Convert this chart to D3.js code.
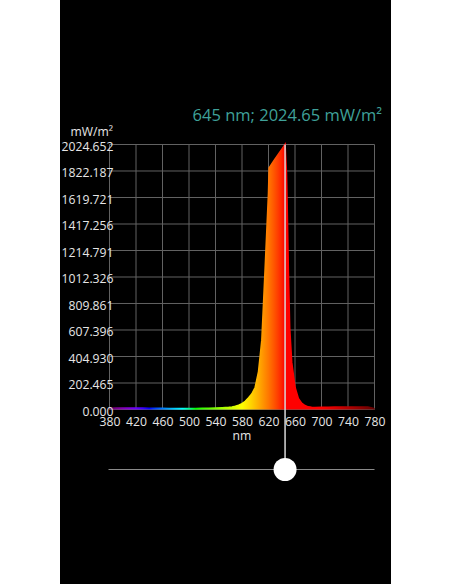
<!DOCTYPE html>
<html><head><meta charset="utf-8">
<script src="https://cdn.jsdelivr.net/npm/d3@7"></script>
<style>
html,body{margin:0;padding:0;background:#fff;}
svg{display:block;}
text{font-family:"Open Sans","DejaVu Sans",sans-serif;}
</style></head>
<body>
<script>
// ---- data ----
const wavelengths = [380,390,400,410,420,430,440,450,460,470,480,490,500,510,520,530,540,550,560,565,570,575,580,585,590,595,600,605,610,615,620,621,625,630,635,640,645,647,648,650,652,655,660,665,670,675,680,685,690,700,710,720,730,740,750,760,770,775,780];
const irradiance = [10,11,12,12,12,11,10,9,9,8,8,8,8,8,9,10,11,13,16,19,24,32,45,62,90,120,170,290,530,1080,1650,1846,1877,1914,1951,1987,2024.652,1820,1600,1050,620,360,170,85,48,30,20,16,15,16,17,18,18,19,19,19,18,14,6];
const xTicks = [380,420,460,500,540,580,620,660,700,740,780];
const yTickLabels = ["0.000","202.465","404.930","607.396","809.861","1012.326","1214.791","1417.256","1619.721","1822.187","2024.652"];
const cursorNm = 645;
const cursorValue = 2024.65;
const yUnit = "mW/m²";
const xUnit = "nm";

const W = 452, H = 584;
const svg = d3.select("body").append("svg").attr("width", W).attr("height", H);

// black panel
svg.append("rect").attr("x", 60).attr("y", 0).attr("width", 331).attr("height", H).attr("fill", "#000");

const x = d3.scaleLinear().domain([380, 780]).range([109.5, 374.5]);
const yMax = +yTickLabels[yTickLabels.length - 1];
const y = d3.scaleLinear().domain([0, yMax]).range([409.5, 144.5]);

// wavelength -> colour (Bruton)
function wlColor(w) {
  let r = 0, g = 0, b = 0;
  if (w < 440) { r = -(w - 440) / 60; b = 1; }
  else if (w < 490) { g = (w - 440) / 50; b = 1; }
  else if (w < 510) { g = 1; b = -(w - 510) / 20; }
  else if (w < 580) { r = (w - 510) / 70; g = 1; }
  else if (w < 645) { r = 1; g = -(w - 645) / 65; }
  else { r = 1; }
  let f = 1;
  if (w < 420) f = 0.3 + 0.7 * (w - 380) / 40;
  else if (w > 700) f = 0.3 + 0.7 * (780 - w) / 80;
  const c = v => Math.round(255 * Math.pow(v * f, 0.8));
  return `rgb(${c(r)},${c(g)},${c(b)})`;
}

const defs = svg.append("defs");
const grad = defs.append("linearGradient").attr("id", "spec")
  .attr("gradientUnits", "userSpaceOnUse")
  .attr("x1", x(380)).attr("x2", x(780)).attr("y1", 0).attr("y2", 0);
d3.range(380, 781, 5).forEach(w => {
  grad.append("stop").attr("offset", (w - 380) / 400).attr("stop-color", wlColor(w));
});

// grid
const gridColor = "#626262";
svg.append("g").selectAll("line").data(xTicks).join("line")
  .attr("x1", d => x(d)).attr("x2", d => x(d))
  .attr("y1", y(yMax)).attr("y2", y(0))
  .attr("stroke", gridColor).attr("stroke-width", 1);
svg.append("g").selectAll("line").data(yTickLabels).join("line")
  .attr("x1", x(380)).attr("x2", x(780))
  .attr("y1", d => y(+d)).attr("y2", d => y(+d))
  .attr("stroke", gridColor).attr("stroke-width", 1);

// spectrum area + outline
const data = wavelengths.map((w, i) => ({w, v: irradiance[i]}));
const area = d3.area().x(d => x(d.w)).y0(y(0)).y1(d => y(d.v)).curve(d3.curveLinear);
const line = d3.line().x(d => x(d.w)).y(d => y(d.v)).curve(d3.curveLinear);
svg.append("path").datum(data).attr("d", area).attr("fill", "url(#spec)");
svg.append("path").datum(data).attr("d", line).attr("fill", "none")
  .attr("stroke", "url(#spec)").attr("stroke-width", 1.6);

// axes (tick labels)
const fs = "12.2px";
const yAxis = d3.axisLeft(y).tickValues(yTickLabels.map(Number))
  .tickFormat((d, i) => yTickLabels[i]).tickSize(0).tickPadding(0);
const gy = svg.append("g").attr("transform", "translate(113.5,2)").call(yAxis);
gy.select(".domain").remove();
gy.selectAll("text").attr("fill", "#e6e6e6").style("font-size", fs).style("font-family", "Open Sans");

const xAxis = d3.axisBottom(x).tickValues(xTicks).tickFormat(d3.format("d")).tickSize(0).tickPadding(0);
const gx = svg.append("g").attr("transform", "translate(0,417.5)").call(xAxis);
gx.select(".domain").remove();
gx.selectAll("text").attr("fill", "#e6e6e6").style("font-size", fs).style("font-family", "Open Sans");

svg.append("text").attr("x", 242).attr("y", 439.5).attr("text-anchor", "middle")
  .attr("fill", "#e6e6e6").style("font-size", fs).text(xUnit);
svg.append("text").attr("x", 113).attr("y", 136).attr("text-anchor", "end")
  .attr("fill", "#e6e6e6").style("font-size", fs).text(yUnit);

// readout
svg.append("text").attr("x", 382).attr("y", 121).attr("text-anchor", "end")
  .attr("fill", "#3fa199").style("font-size", "16.5px")
  .text(`${cursorNm} nm; ${cursorValue} ${yUnit}`);

// slider track
const sy = 469.5;
svg.append("line").attr("x1", x(380) - 1).attr("x2", x(780)).attr("y1", sy).attr("y2", sy)
  .attr("stroke", "#8a8a8a").attr("stroke-width", 1);
// cursor line
svg.append("line").attr("x1", x(cursorNm)).attr("x2", x(cursorNm))
  .attr("y1", y(yMax)).attr("y2", sy)
  .attr("stroke", "#d8d8d8").attr("stroke-width", 1.5);
svg.append("circle").attr("cx", x(cursorNm)).attr("cy", sy).attr("r", 11.5).attr("fill", "#fff");
</script>
</body></html>
